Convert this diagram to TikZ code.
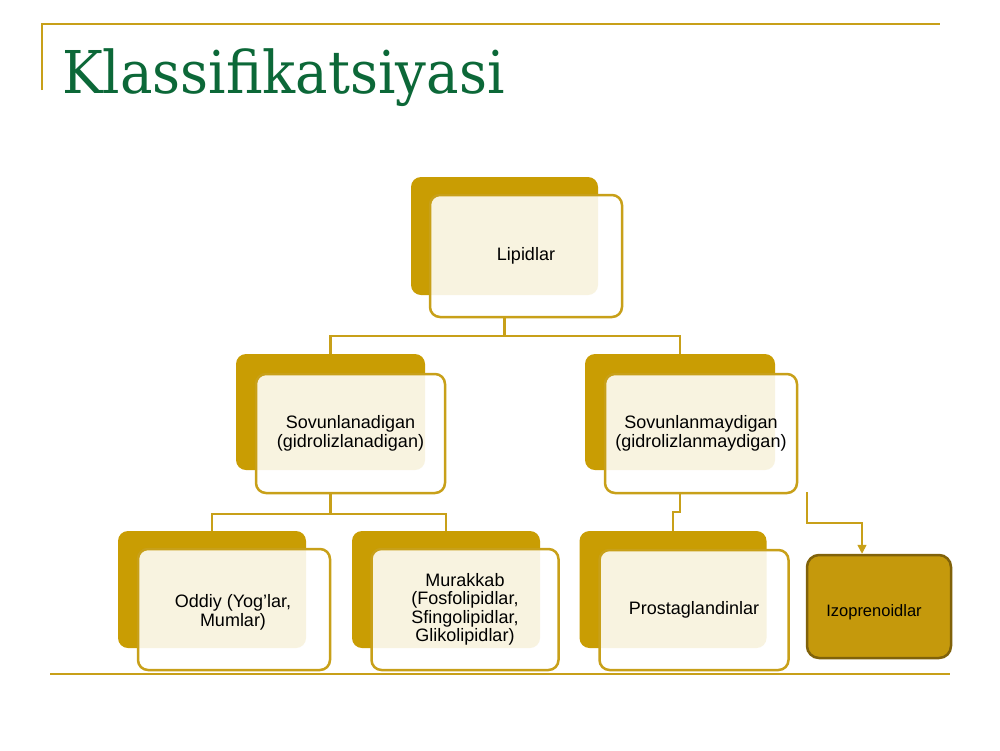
\documentclass[tikz,border=0pt]{standalone}
\usepackage{fontspec}
\setmainfont{Liberation Sans}
\newfontfamily\titlefont{DejaVu Serif}
\usetikzlibrary{arrows.meta}
\definecolor{goldline}{RGB}{200,160,25}
\definecolor{goldback}{RGB}{201,157,3}
\definecolor{izofill}{RGB}{197,153,12}
\definecolor{izodraw}{RGB}{128,98,10}
\definecolor{titlegreen}{RGB}{12,104,56}
\tikzset{
  backbox/.style={rectangle, rounded corners=10pt, fill=goldback, draw=none, inner sep=0pt},
  frontbox/.style={rectangle, rounded corners=10pt, draw=goldline, line width=2.5pt, fill=white, fill opacity=0.88, text opacity=1, inner sep=0pt, align=center, font=\fontsize{18}{18.5}\selectfont},
  izobox/.style={rectangle, rounded corners=12pt, draw=izodraw, line width=2.5pt, fill=izofill, inner sep=0pt, align=center, font=\fontsize{16.5}{18}\selectfont},
  boxtext/.style={align=center, inner sep=0pt, text opacity=1, fill opacity=1, font=\fontsize{18}{18.5}\selectfont},
  izotext/.style={align=center, inner sep=0pt, font=\fontsize{16.5}{18}\selectfont},
  conn/.style={draw=goldline, line width=2.2pt},
  rule/.style={draw=goldline, line width=2.2pt}
}
\begin{document}
\begin{tikzpicture}[x=1pt,y=-1pt]
\useasboundingbox (0,0) rectangle (1000,750);
\fill[white] (0,0) rectangle (1000,750);
% frame lines
\coordinate (tl) at (42,24);
\coordinate (tr) at (940,24);
\coordinate (tlb) at (42,90);
\coordinate (bl) at (50,674);
\coordinate (br) at (950,674);
\draw[rule] (tlb) -- (tl) -- (tr);
\draw[rule] (bl) -- (br);
% title
\node[anchor=base west, inner sep=0pt, text=titlegreen, font=\titlefont\fontsize{59}{66}\selectfont] (title) at (62,93) {\scalebox{0.925}[1]{Klassifikatsiyasi}};
% Lipidlar
\node[backbox, minimum width=187pt, minimum height=118pt] (lipB) at (504.5,236) {};
\node[frontbox, minimum width=192pt, minimum height=122pt] (lip) at (526,256) {Lipidlar};
% Sovunlanadigan
\node[backbox, minimum width=189pt, minimum height=116pt] (sovB) at (330.5,412) {};
\node[frontbox, minimum width=189pt, minimum height=119pt] (sov) at (350.5,433.5) {Sovunlanadigan\\(gidrolizlanadigan)};
% Sovunlanmaydigan
\node[backbox, minimum width=190pt, minimum height=116pt] (nsovB) at (680,412) {};
\node[frontbox, minimum width=192pt, minimum height=119pt] (nsov) at (701,433.5) {Sovunlanmaydigan\\(gidrolizlanmaydigan)};
% Oddiy
\node[backbox, minimum width=188pt, minimum height=117pt] (odB) at (212,589.5) {};
\node[frontbox, minimum width=192pt, minimum height=121pt,
  label={[boxtext, name=odt, xshift=-1pt, yshift=-3pt]center:Oddiy (Yog’lar,\\Mumlar)}] (od) at (234,609.5) {};
% Murakkab
\node[backbox, minimum width=188pt, minimum height=117pt] (muB) at (446,589.5) {};
\node[frontbox, minimum width=187pt, minimum height=121pt] (mu) at (465,609.5) {Murakkab\\(Fosfolipidlar,\\Sfingolipidlar,\\Glikolipidlar)};
% Prostaglandinlar
\node[backbox, minimum width=187pt, minimum height=117pt] (prB) at (673,589.5) {};
\node[frontbox, minimum width=189pt, minimum height=120pt] (pr) at (694,610) {Prostaglandinlar};
% Izoprenoidlar
\node[izobox, minimum width=144pt, minimum height=103pt,
  label={[izotext, name=izot, xshift=-5pt, yshift=-6pt]center:Izoprenoidlar}] (izo) at (879,606.5) {};
% connectors
\draw[conn] (lipB.south |- lip.south) -- ++(0,18) -| (sovB.north);
\draw[conn] (lipB.south |- lip.south) -- ++(0,18) -| (nsovB.north);
\draw[conn] (sovB.south |- sov.south) -- ++(0,20) -| (odB.north);
\draw[conn] (sovB.south |- sov.south) -- ++(0,20) -| (muB.north);
\draw[conn] (nsovB.south |- nsov.south) -- ++(0,18) -| (prB.north);
\coordinate (izostart) at (807,492);
\draw[conn, line width=1.6pt, -{Triangle[length=9pt,width=9pt]}] (izostart) -- (807,523) -| ([xshift=-17pt]izo.north);
\end{tikzpicture}
\end{document}
